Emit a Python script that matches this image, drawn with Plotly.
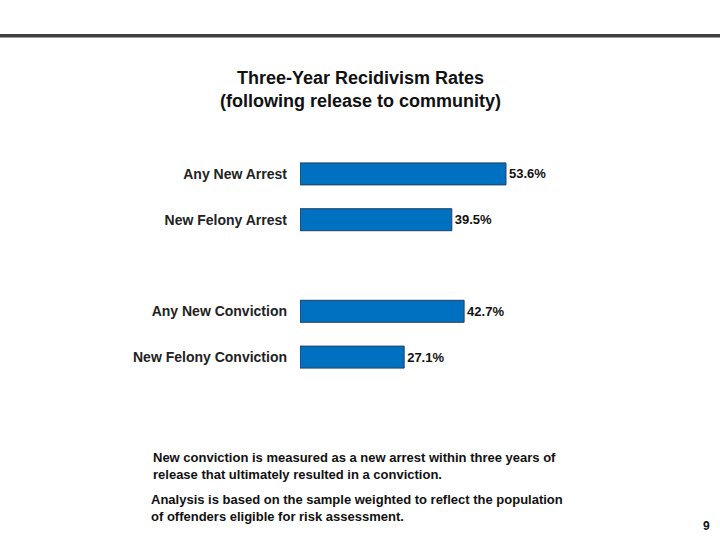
import plotly.graph_objects as go

categories = ["Any New Arrest", "New Felony Arrest", " ", "Any New Conviction", "New Felony Conviction"]
values = [53.6, 39.5, None, 42.7, 27.1]
labels = ["53.6%", "39.5%", "", "42.7%", "27.1%"]

W, H = 720, 540
L, R, T, B = 300, 190, 151, 160
pw, ph = W - L - R, H - T - B

def px(x):
    return (x - L) / pw

def py(y):
    return (H - B - y) / ph

fig = go.Figure(go.Bar(
    y=categories, x=values, orientation="h",
    text=labels, textposition="outside", cliponaxis=False,
    textfont=dict(family="Liberation Sans, Arial", size=13, color="#111111", weight="bold"),
    marker=dict(color="#0070C0", line=dict(color="#1F3F66", width=1)),
    width=0.48,
))

fig.update_layout(
    width=W, height=H, margin=dict(l=L, r=R, t=T, b=B),
    paper_bgcolor="white", plot_bgcolor="white", showlegend=False,
    font=dict(family="Liberation Sans, Arial", color="#111111"),
    xaxis=dict(range=[0, pw / 3.843], visible=False, fixedrange=True),
    yaxis=dict(autorange="reversed", categoryorder="array", categoryarray=categories,
               showline=False, showgrid=False, zeroline=False, ticks="", fixedrange=True,
               ticklabelstandoff=12,
               tickfont=dict(family="Liberation Sans, Arial", size=14, color="#222222", weight="bold")),
    shapes=[dict(type="line", xref="paper", yref="paper",
                 x0=px(0), x1=px(W), y0=py(35.8), y1=py(35.8),
                 line=dict(color="#404040", width=3.5))],
    annotations=[
        dict(text="<b>Three-Year Recidivism Rates<br>(following release to community)</b>",
             xref="paper", yref="paper", x=px(360), y=py(89.5), xanchor="center", yanchor="middle",
             showarrow=False, align="center",
             font=dict(family="Liberation Sans, Arial", size=18, color="#111111")),
        dict(text="<b>New conviction is measured as a new arrest within three years of<br>release that ultimately resulted in a conviction.</b>",
             xref="paper", yref="paper", x=px(151), y=py(466), xanchor="left", yanchor="middle",
             showarrow=False, align="left",
             font=dict(family="Liberation Sans, Arial", size=13, color="#111111")),
        dict(text="<b>Analysis is based on the sample weighted to reflect the population<br>of offenders eligible for risk assessment.</b>",
             xref="paper", yref="paper", x=px(149), y=py(508), xanchor="left", yanchor="middle",
             showarrow=False, align="left",
             font=dict(family="Liberation Sans, Arial", size=13, color="#111111")),
        dict(text="<b>9</b>", xref="paper", yref="paper", x=px(706), y=py(526),
             xanchor="center", yanchor="middle", showarrow=False,
             font=dict(family="Liberation Sans, Arial", size=12, color="#111111")),
    ],
)

fig.write_html("out.html", config={"displayModeBar": False},
               post_script="document.body.style.margin='0';document.body.style.overflow='hidden';")
